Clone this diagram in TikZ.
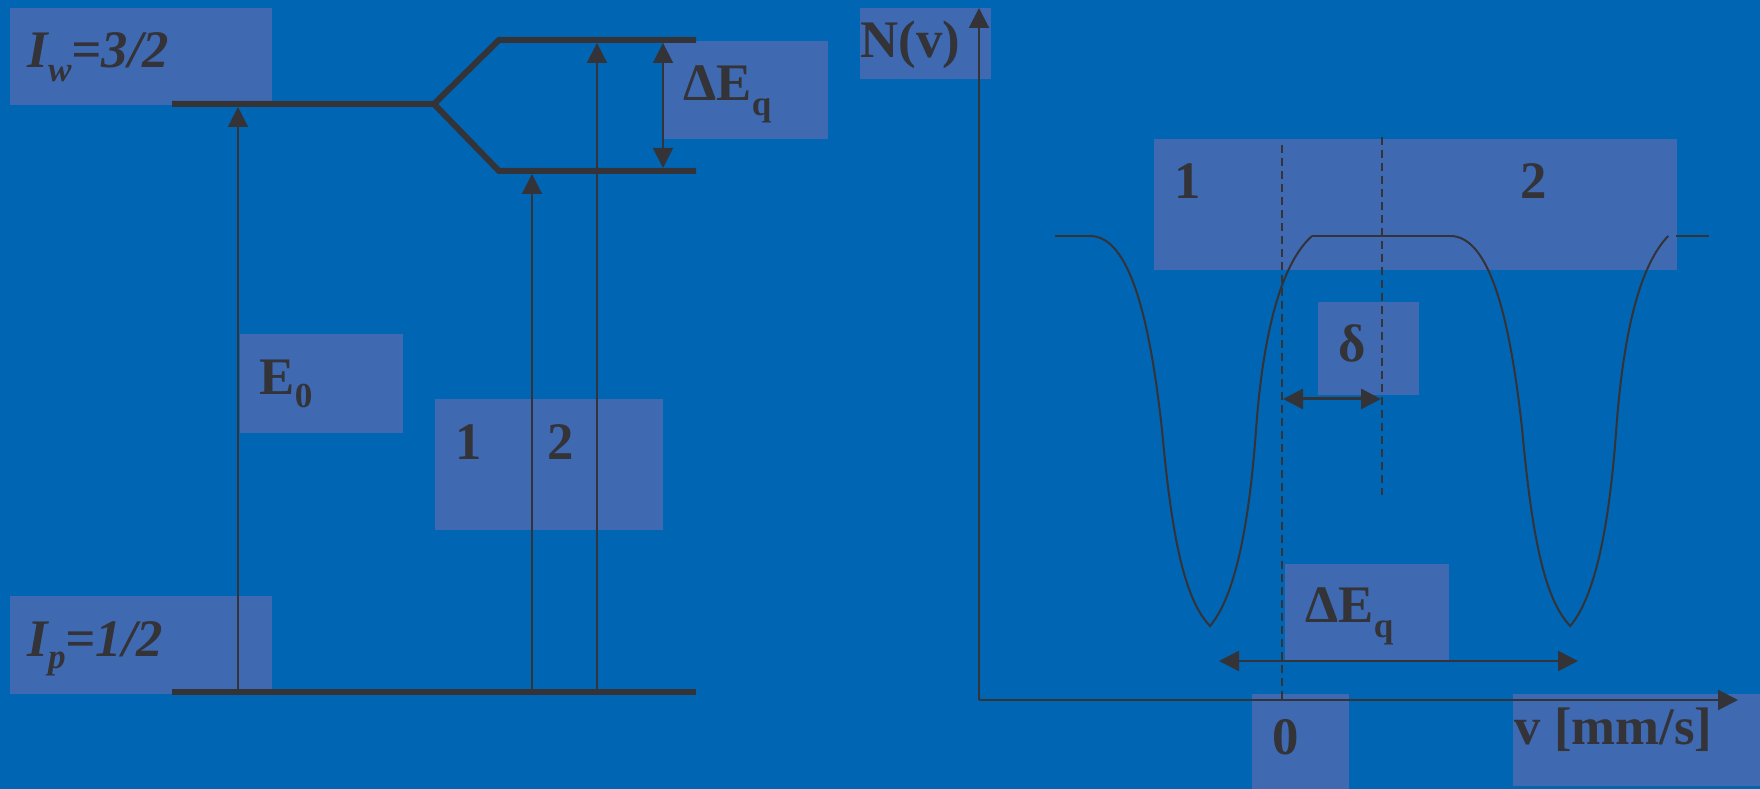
\documentclass[tikz,border=0pt]{standalone}
\usepackage{fontspec}
\setmainfont{Liberation Serif}
\usetikzlibrary{arrows.meta}
\definecolor{bgblue}{RGB}{0,102,179}
\definecolor{boxblue}{RGB}{63,106,178}
\definecolor{ink}{RGB}{51,51,56}
\newcommand{\lowsub}[2]{\raisebox{-#1}{\fontsize{10}{12}\selectfont #2}}
\tikzset{
  lbox/.style={fill=boxblue, draw=none, inner sep=0pt, anchor=north west},
  ltext/.style={text=ink, inner sep=0pt, anchor=base west, font=\fontsize{15}{18}\selectfont\bfseries},
  levelline/.style={draw=ink, line width=0.06cm, line join=miter},
  thinline/.style={draw=ink, line width=0.02cm},
  onetip/.style={-{Triangle[width=0.2cm,length=0.2cm]}},
  twotips/.style={{Triangle[width=0.2cm,length=0.2cm]}-{Triangle[width=0.2cm,length=0.2cm]}},
  dashline/.style={draw=ink, line width=0.02cm, dash pattern=on 0.08cm off 0.05cm},
  specline/.style={draw=ink, line width=0.02cm}
}
\begin{document}
\begin{tikzpicture}[x=0.01cm, y=-0.01cm]
\fill[bgblue] (0,0) rectangle (1760,789);
\useasboundingbox (0,0) rectangle (1760,789);
% ---------- boxes ----------
\node[lbox, minimum width=2.62cm, minimum height=0.97cm] (bIw) at (9,7) {};
\node[lbox, minimum width=1.64cm, minimum height=0.98cm] (bDE1) at (663,40) {};
\node[lbox, minimum width=1.63cm, minimum height=0.99cm] (bE0) at (239,333) {};
\node[lbox, minimum width=2.28cm, minimum height=1.31cm] (b12L) at (434,398) {};
\node[lbox, minimum width=2.62cm, minimum height=0.98cm] (bIp) at (9,595) {};
\node[lbox, minimum width=1.31cm, minimum height=0.71cm] (bNv) at (859,7) {};
\node[lbox, minimum width=5.23cm, minimum height=1.31cm] (b12R) at (1153,138) {};
\node[lbox, minimum width=1.01cm, minimum height=0.93cm] (bDelta) at (1317,301) {};
\node[lbox, minimum width=1.64cm, minimum height=0.97cm] (bDE2) at (1284,563) {};
\node[lbox, minimum width=0.97cm, minimum height=0.96cm] (bZero) at (1251,693) {};
\node[lbox, minimum width=2.48cm, minimum height=0.92cm] (bV) at (1512,693) {};
% ---------- left: level scheme ----------
\coordinate (gL) at (172,692);
\coordinate (gR) at (696,692);
\coordinate (uL) at (172,104);
\coordinate (sp) at (434,104);
\coordinate (tA) at (499,40);
\coordinate (tB) at (696,40);
\coordinate (lA) at (499,171);
\coordinate (lB) at (696,171);
\draw[levelline] (uL) -- (sp) -- (tA) -- (tB);
\draw[levelline] (sp) -- (lA) -- (lB);
\draw[levelline] (gL) -- (gR);
\coordinate (e0b) at (238,692);
\coordinate (e0t) at (238,107);
\coordinate (a1b) at (532,692);
\coordinate (a1t) at (532,174);
\coordinate (a2b) at (597,692);
\coordinate (a2t) at (597,43);
\coordinate (dqt) at (663,43);
\coordinate (dqb) at (663,168);
\draw[thinline, onetip] (e0b) -- (e0t);
\draw[thinline, onetip] (a1b) -- (a1t);
\draw[thinline, onetip] (a2b) -- (a2t);
\draw[thinline, twotips] (dqb) -- (dqt);
% ---------- right: spectrum ----------
\coordinate (O) at (979,700);
\coordinate (yT) at (979,8);
\coordinate (xT) at (1738,700);
\draw[thinline, onetip] (O) -- (yT);
\draw[thinline, onetip] (O) -- (xT);
\coordinate (d1t) at (1282,145);
\coordinate (d1b) at (1282,700);
\coordinate (d2t) at (1382,137);
\coordinate (d2b) at (1382,495);
\draw[dashline] (d1t) -- (d1b);
\draw[dashline] (d2t) -- (d2b);
\coordinate (dl) at (1283,399);
\coordinate (dr) at (1381,399);
\draw[draw=ink, line width=0.03cm, twotips] (dl) -- (dr);
\coordinate (ql) at (1219,661);
\coordinate (qr) at (1578,661);
\draw[draw=ink, line width=0.025cm, twotips] (ql) -- (qr);
% spectrum curve
\draw[specline] (1055,236) -- (1090,236);
\draw[specline] (1312,236) -- (1450,236);
\draw[specline] (1676,236) -- (1709,236);
\draw[specline] (1090,236) .. controls (1130,236) and (1150,320) .. (1162,430)
  .. controls (1172,540) and (1185,600) .. (1210,626)
  .. controls (1232,600) and (1248,540) .. (1256,430)
  .. controls (1264,320) and (1285,260) .. (1312,236);
\begin{scope}[xshift=3.6cm]
\draw[specline] (1090,236) .. controls (1130,236) and (1150,320) .. (1162,430)
  .. controls (1172,540) and (1185,600) .. (1210,626)
  .. controls (1232,600) and (1248,540) .. (1256,430)
  .. controls (1264,320) and (1283,262) .. (1308,236);
\end{scope}
% ---------- texts ----------
\node[ltext] (tIw) at (27,68) {\itshape I\lowsub{0.14cm}{w}=3/2};
\node[ltext] (tE0) at (259,395) {E\lowsub{0.13cm}{0}};
\node[ltext] (tOneL) at (455,460) {1};
\node[ltext] (tTwoL) at (547,460) {2};
\node[ltext] (tIp) at (27,657) {\itshape I\lowsub{0.12cm}{p}=1/2};
\node[ltext] (tDE1) at (683,101) {ΔE\lowsub{0.15cm}{q}};
\node[ltext] (tNv) at (860,58) {N(v)};
\node[ltext] (tOneR) at (1174,199) {1};
\node[ltext] (tTwoR) at (1520,199) {2};
\node[ltext] (tDelta) at (1338,362) {δ};
\node[ltext] (tDE2) at (1305,623) {ΔE\lowsub{0.15cm}{q}};
\node[ltext] (tZero) at (1272,755) {0};
\node[ltext] (tV) at (1514,745) {v [mm/s]};
\end{tikzpicture}
\end{document}
